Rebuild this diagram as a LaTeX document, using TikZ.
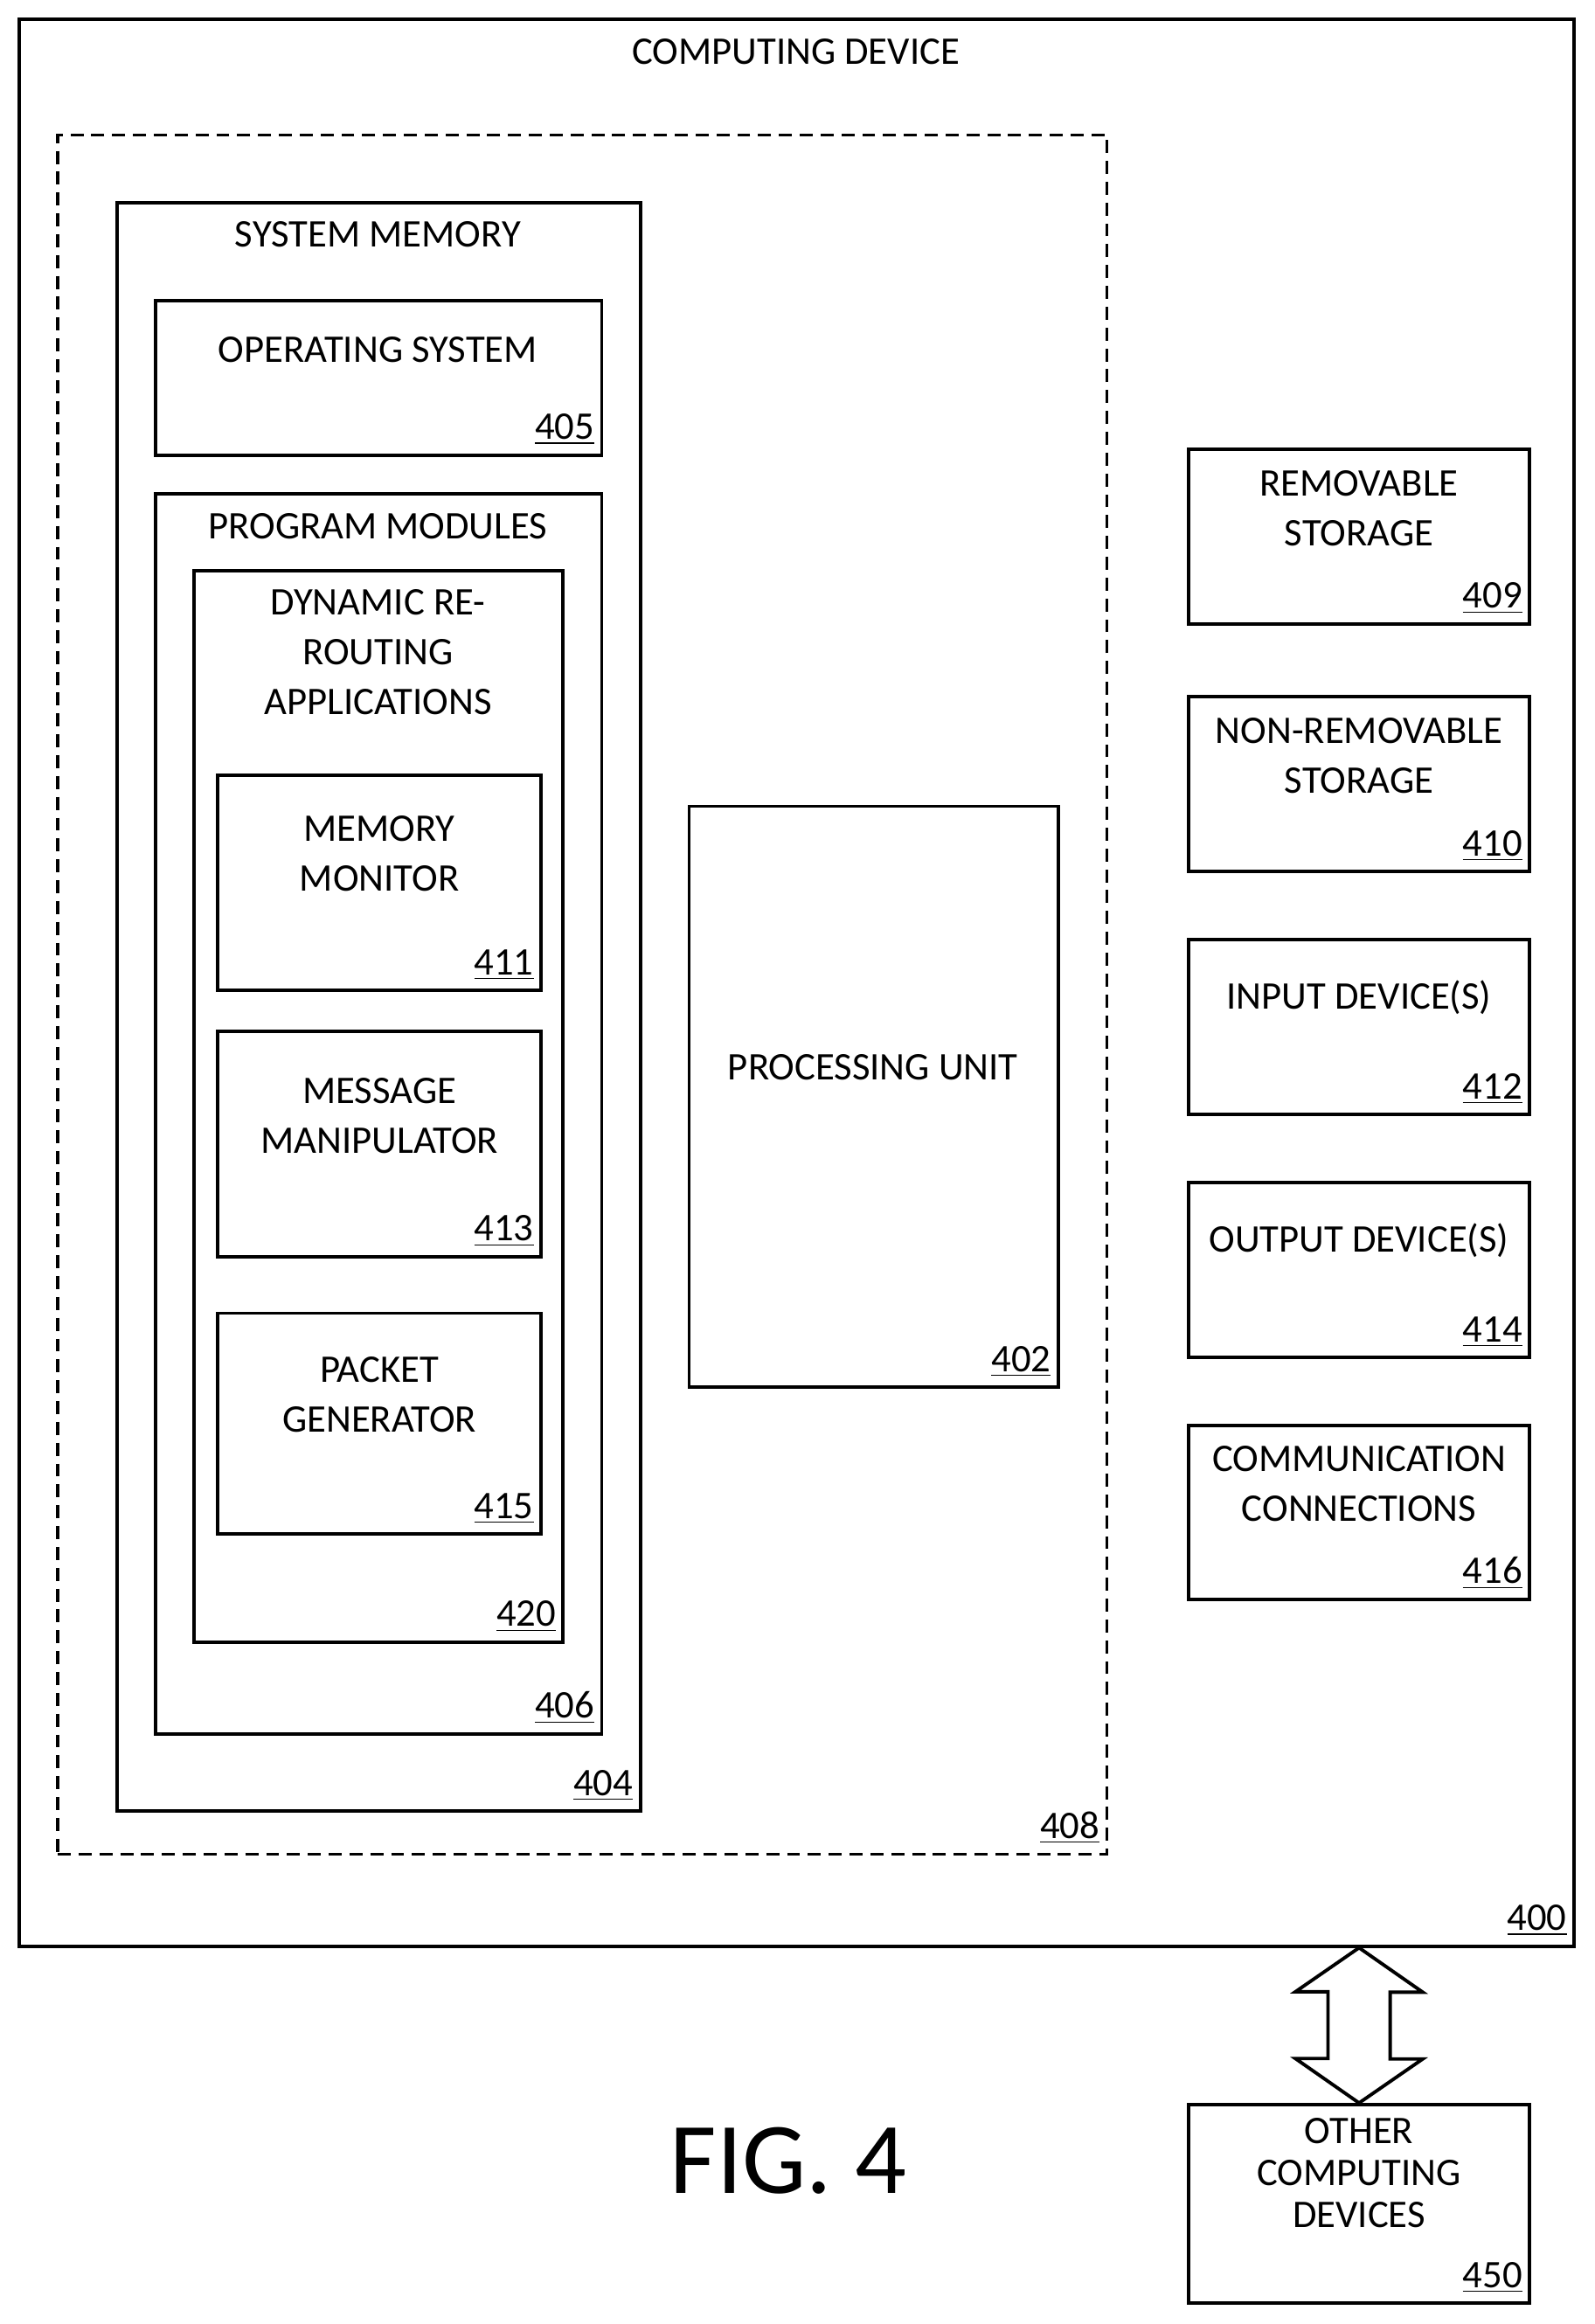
\documentclass[tikz,border=0pt]{standalone}
\usepackage{fontspec}
\setmainfont{Carlito}
\usetikzlibrary{positioning, fit, calc}

\begin{document}
\begin{tikzpicture}[x=0.2mm, y=-0.2mm]

\tikzstyle{box_style} = [draw=black, line width=1.3pt, inner sep=0pt]
\tikzstyle{dash_style} = [draw=black, line width=1.1pt, dashed, dash pattern=on 5pt off 3pt, inner sep=0pt]
\tikzstyle{text_style} = [font=\fontsize{15}{19}\selectfont, align=center, inner sep=0pt]
\tikzstyle{num_style} = [font=\fontsize{15}{18}\selectfont, anchor=south east, inner sep=1pt]

\useasboundingbox (0,0) rectangle (1076,1568);

% containers
\node[box_style, fit={(13,13) (1062,1313)}] (dev) {};
\node[dash_style, fit={(39,91) (747,1251)}] (core) {};
\node[box_style, fit={(79,137) (432,1222)}] (sysmem) {};
\node[box_style, fit={(105,203) (406,307)}] (os) {};
\node[box_style, fit={(105,333) (406,1170)}] (progmod) {};
\node[box_style, fit={(131,385) (380,1108)}] (rerouting) {};
\node[box_style, fit={(147,523) (365,668)}] (monitor) {};
\node[box_style, fit={(147,696) (365,848)}] (manip) {};
\node[box_style, fit={(147,886) (365,1035)}] (packet) {};
\node[box_style, fit={(465,544) (714,936)}] (cpu) {};
\node[box_style, fit={(802,303) (1032,421)}] (remov) {};
\node[box_style, fit={(802,470) (1032,588)}] (nonremov) {};
\node[box_style, fit={(802,634) (1032,752)}] (input) {};
\node[box_style, fit={(802,798) (1032,916)}] (output) {};
\node[box_style, fit={(802,962) (1032,1079)}] (comm) {};
\node[box_style, fit={(802,1420) (1032,1554)}] (other) {};

% texts
\node[text_style] (dev_t) at (537,35) {COMPUTING DEVICE};
\node[text_style] (sysmem_t) at (255,158) {SYSTEM MEMORY};
\node[text_style] (os_t) at (255,236) {OPERATING SYSTEM};
\node[text_style] (progmod_t) at (255,355) {PROGRAM MODULES};
\node[text_style] (rerouting_t) at (255,440) {DYNAMIC RE-\\ROUTING\\APPLICATIONS};
\node[text_style] (monitor_t) at (256,576) {MEMORY\\MONITOR};
\node[text_style] (manip_t) at (256,753) {MESSAGE\\MANIPULATOR};
\node[text_style] (packet_t) at (256,941) {PACKET\\GENERATOR};
\node[text_style] (cpu_t) at (589,720) {PROCESSING UNIT};
\node[text_style] (remov_t) at (917,343) {REMOVABLE\\STORAGE};
\node[text_style] (nonremov_t) at (917,510) {NON-REMOVABLE\\STORAGE};
\node[text_style] (input_t) at (917,673) {INPUT DEVICE(S)};
\node[text_style] (output_t) at (917,837) {OUTPUT DEVICE(S)};
\node[text_style] (comm_t) at (917,1001) {COMMUNICATION\\CONNECTIONS};
\node[text_style] (other_t) at (917,1466) {OTHER\\[-3pt]COMPUTING\\[-3pt]DEVICES};
\node[font=\fontsize{39}{44}\selectfont, inner sep=0pt] (fig) at (532,1458) {FIG. 4};

% reference numbers
\node[num_style] at ($(dev.south east)+(-4,-6)$) {\underline{400}};
\node[num_style] at ($(core.south east)+(-4,-6)$) {\underline{408}};
\node[num_style] at ($(sysmem.south east)+(-4,-6)$) {\underline{404}};
\node[num_style] at ($(os.south east)+(-4,-6)$) {\underline{405}};
\node[num_style] at ($(progmod.south east)+(-4,-6)$) {\underline{406}};
\node[num_style] at ($(rerouting.south east)+(-4,-6)$) {\underline{420}};
\node[num_style] at ($(monitor.south east)+(-4,-6)$) {\underline{411}};
\node[num_style] at ($(manip.south east)+(-4,-6)$) {\underline{413}};
\node[num_style] at ($(packet.south east)+(-4,-6)$) {\underline{415}};
\node[num_style] at ($(cpu.south east)+(-4,-6)$) {\underline{402}};
\node[num_style] at ($(remov.south east)+(-4,-6)$) {\underline{409}};
\node[num_style] at ($(nonremov.south east)+(-4,-6)$) {\underline{410}};
\node[num_style] at ($(input.south east)+(-4,-6)$) {\underline{412}};
\node[num_style] at ($(output.south east)+(-4,-6)$) {\underline{414}};
\node[num_style] at ($(comm.south east)+(-4,-6)$) {\underline{416}};
\node[num_style] at ($(other.south east)+(-4,-6)$) {\underline{450}};

% link to other devices
\coordinate (tip_top) at (dev.south -| other.north);
\coordinate (tip_bot) at (other.north);
\draw[line width=1.3pt, line join=miter]
  (tip_top) -- ++(43,30) -- ++(-22,0) -- ++(0,45) -- ++(22,0)
  -- (tip_bot) -- ++(-43,-30) -- ++(22,0) -- ++(0,-45) -- ++(-22,0) -- cycle;

\end{tikzpicture}
\end{document}
